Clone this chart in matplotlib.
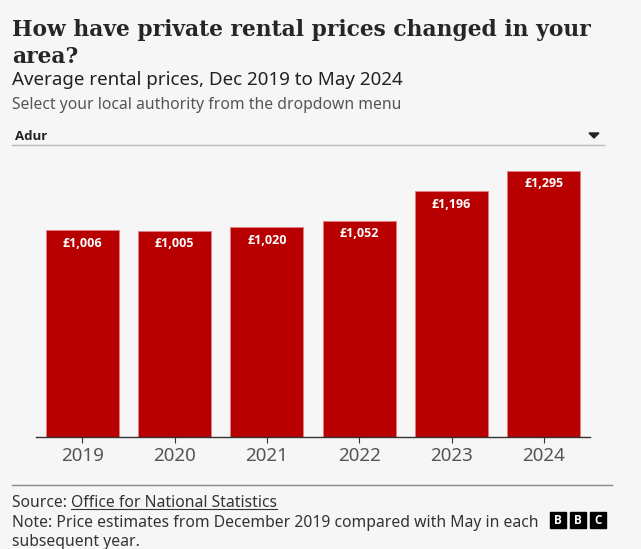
import matplotlib
matplotlib.use("Agg")
import matplotlib.pyplot as plt
from matplotlib.patches import Rectangle, Polygon
from matplotlib.lines import Line2D

# --- Data ---
years = ["2019", "2020", "2021", "2022", "2023", "2024"]
prices = [1006, 1005, 1020, 1052, 1196, 1295]
price_labels = ["£1,006", "£1,005", "£1,020", "£1,052", "£1,196", "£1,295"]

W, H = 641, 549
BG = "#f6f6f6"
RED = "#b80000"
SANS = ["Noto Sans", "DejaVu Sans"]
BOLD = ["Open Sans", "DejaVu Sans"]


def fx(px):
    return px / W


def fy(py):
    return 1 - py / H


fig = plt.figure(figsize=(W / 100, H / 100), dpi=100, facecolor=BG)

# --- Header text ---
fig.text(fx(12), fy(36), "How have private rental prices changed in your",
         fontsize=15.7, family="DejaVu Serif", fontweight="bold", color="#262626",
         va="baseline")
fig.text(fx(12), fy(63), "area?",
         fontsize=15.7, family="DejaVu Serif", fontweight="bold", color="#262626",
         va="baseline")
fig.text(fx(12), fy(85), "Average rental prices, Dec 2019 to May 2024",
         fontsize=13.5, family=SANS, color="#222222", va="baseline")
fig.text(fx(12), fy(109), "Select your local authority from the dropdown menu",
         fontsize=11.3, family=SANS, color="#555555", va="baseline")

# dropdown
fig.text(fx(15), fy(140), "Adur", fontsize=9.5, family=BOLD, color="#222222",
         fontweight="bold", va="baseline")
fig.add_artist(Line2D([fx(12), fx(604)], [fy(145), fy(145)], color="#bbbbbb", lw=1))
fig.add_artist(Polygon([[fx(589), fy(133)], [fx(599), fy(133)], [fx(594), fy(138)]],
                       closed=True, color="#222222", transform=fig.transFigure))

# --- Bars ---
ax = fig.add_axes([fx(36), fy(437), fx(590) - fx(36), fy(150) - fy(437)])
ax.set_facecolor(BG)
x = range(len(years))
ax.bar(x, prices, width=0.79, color=RED, edgecolor="#e08080", linewidth=0.6)
for i, (p, lab) in enumerate(zip(prices, price_labels)):
    ax.annotate(lab, (i, p), xytext=(0, -4.5), textcoords="offset points",
                ha="center", va="top", color="white", fontsize=9,
                fontweight="bold", family=BOLD)

ax.set_xlim(-0.5, len(years) - 0.5)
ax.set_ylim(0, 1295 * 287 / 266)
ax.set_xticks(list(x))
ax.set_xticklabels(years, fontsize=13.5, color="#555555", family=SANS)
ax.tick_params(axis="x", length=4, width=0.8, color="#333333", pad=3)
ax.set_yticks([])
for s in ["top", "right", "left"]:
    ax.spines[s].set_visible(False)
ax.spines["bottom"].set_color("#333333")
ax.spines["bottom"].set_linewidth(1)

# --- Footer ---
fig.add_artist(Line2D([fx(12), fx(612)], [fy(485), fy(485)], color="#888888", lw=1))
src = fig.text(fx(12), fy(507), "Source: ", fontsize=11.3, family=SANS,
               color="#333333", va="baseline")
fig.canvas.draw()
bb = src.get_window_extent()
link = fig.text(bb.x1 / W, fy(507), "Office for National Statistics", fontsize=11.3,
                family=SANS, color="#333333", va="baseline")
fig.canvas.draw()
lb = link.get_window_extent()
fig.add_artist(Line2D([lb.x0 / W, lb.x1 / W], [fy(509), fy(509)], color="#333333", lw=0.8))
fig.text(fx(12), fy(527), "Note: Price estimates from December 2019 compared with May in each",
         fontsize=11.3, family=SANS, color="#333333", va="baseline")
fig.text(fx(12), fy(546), "subsequent year.",
         fontsize=11.3, family=SANS, color="#333333", va="baseline")

# BBC blocks
for k, letter in enumerate("BBC"):
    x0 = 550 + k * 20
    fig.add_artist(Rectangle((fx(x0), fy(528)), fx(16), 16 / H, color="black",
                             transform=fig.transFigure))
    fig.text(fx(x0 + 8), fy(520), letter, fontsize=8.5, fontweight="bold", color="white",
             ha="center", va="center", family=BOLD)

fig.savefig("out.png", dpi=100, facecolor=BG)
